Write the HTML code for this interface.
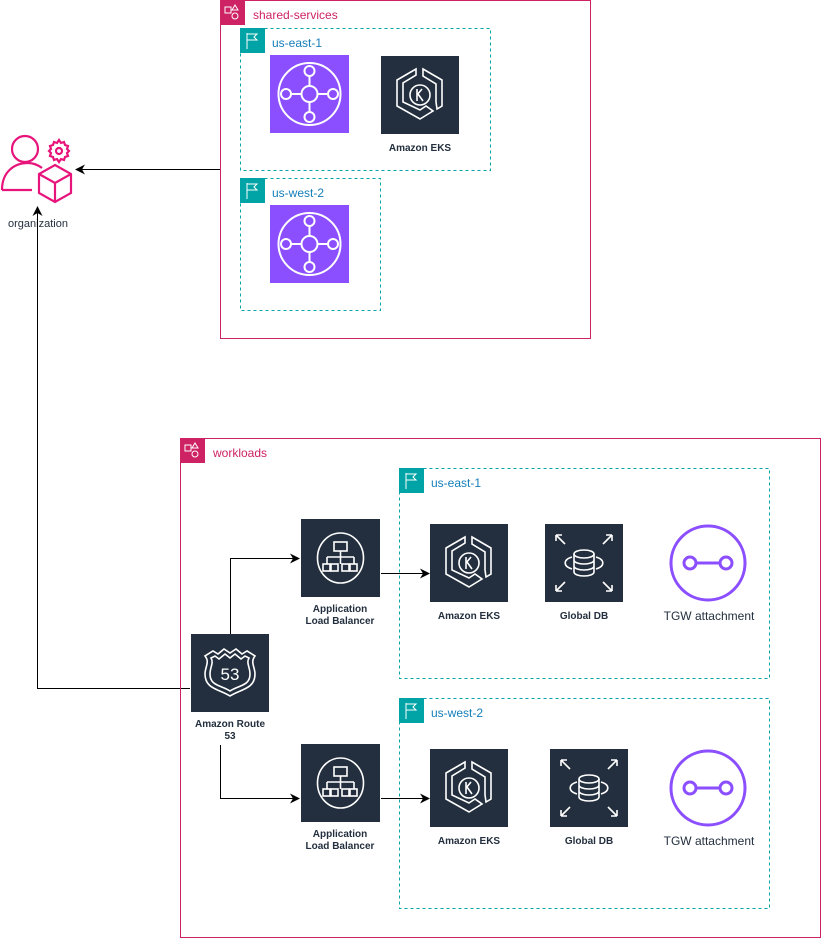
<!DOCTYPE html>
<html><head><meta charset="utf-8"><style>
html,body{margin:0;padding:0;background:#fff;}
svg{display:block;font-family:"Liberation Sans",Arial,sans-serif;}
.b{font-weight:bold;font-size:10px;fill:#232F3E;}
</style></head><body>
<svg width="821" height="939" viewBox="0 0 821 939" xmlns="http://www.w3.org/2000/svg">
<defs>
<marker id="ar" markerWidth="10" markerHeight="10" refX="9" refY="5" orient="auto" markerUnits="userSpaceOnUse">
<path d="M0,0 L10,5 L0,10 L3,5 Z" fill="#000"/></marker>
<g id="acct"><rect width="25" height="25" fill="#CD2264"/><rect x="5" y="7" width="6" height="6" fill="none" stroke="#fff" stroke-width="1"/><path d="M15,5 l3,5 h-6 z" fill="none" stroke="#fff"/><circle cx="15" cy="16" r="3" fill="none" stroke="#fff"/></g>
<g id="flag"><rect width="25" height="25" fill="#00A4A6"/><path d="M7,5 v16 M7,6 h10 l-3,3 l3,3 h-10" fill="none" stroke="#fff" stroke-width="1"/></g>
<g id="tgw"><rect width="79" height="78" fill="#8C4FFF"/><g fill="none" stroke="#fff" stroke-width="2"><circle cx="39.5" cy="39" r="31"/><circle cx="39.5" cy="39" r="8"/><circle cx="39.5" cy="16" r="5"/><circle cx="39.5" cy="62" r="5"/><circle cx="16" cy="39" r="5"/><circle cx="63" cy="39" r="5"/><path d="M39.5,21v10M39.5,47v10M21,39h10M47,39h11"/></g></g>
<g id="eks"><rect width="78" height="78" fill="#232F3E"/><g fill="none" stroke="#fff" stroke-width="1.6"><path d="M35,13 L16,24 V50 L39,63 L52,55 L45,50 L39,54 L22,46 V27 L35,19 Z"/><path d="M42,13 L61,24 V50 L56,53 L55,46 V28 L42,20 Z"/><circle cx="39" cy="39" r="10"/><path d="M36,33v12M36,39l5,-6M37,38l5,7"/></g></g>
<g id="alb"><rect width="79" height="78" fill="#232F3E"/><g fill="none" stroke="#fff" stroke-width="1.6"><ellipse cx="39.5" cy="39" rx="23" ry="25"/><rect x="33" y="23" width="13" height="9"/><path d="M39.5,32v6M26,38h27M26,38v7M39.5,38v7M53,38v7"/><rect x="22" y="45" width="7" height="7"/><rect x="30" y="45" width="7" height="7"/><rect x="41" y="45" width="7" height="7"/><rect x="49" y="45" width="7" height="7"/></g></g>
<g id="db"><rect width="78" height="78" fill="#232F3E"/><g fill="none" stroke="#fff" stroke-width="1.6"><ellipse cx="39" cy="30" rx="10" ry="4"/><path d="M29,30v18a10,4 0 0 0 20,0v-18M29,36a10,4 0 0 0 20,0M29,42a10,4 0 0 0 20,0"/><path d="M27,33a14,7 0 0 0 0,12M51,33a14,7 0 0 1 0,12"/><path d="M11,11l9,9M11,11v6M11,11h6M67,11l-9,9M67,11v6M67,11h-6M11,67l9,-9M11,67v-6M11,67h6M67,67l-9,-9M67,67v-6M67,67h-6"/></g></g>
<g id="tgwa"><g fill="none" stroke="#8C4FFF" stroke-width="3"><circle cx="0" cy="0" r="37"/><circle cx="-18" cy="0" r="6"/><circle cx="18" cy="0" r="6"/><path d="M-12,0h24"/></g></g>
<g id="r53"><rect width="78" height="78" fill="#232F3E"/><g fill="none" stroke="#fff" stroke-width="1.6"><path d="M39,62 C28,55 14,55 14,40 C14,33 19,28 14,22 L22,17 L27,20 L33,15 L39,19 L45,15 L51,20 L56,17 L64,22 C59,28 64,33 64,40 C64,55 50,55 39,62Z"/><path d="M39,57 C30,51 19,52 19,40 C19,33 23,29 20,24 L24,22 L28,25 L34,20 L39,24 L44,20 L50,25 L54,22 L58,24 C55,29 59,33 59,40 C59,52 48,51 39,57Z"/></g><text x="39" y="46" text-anchor="middle" font-size="17" fill="#fff">53</text></g>
</defs>

<!-- shared-services -->
<rect x="220.5" y="0.5" width="370" height="338" fill="none" stroke="#CD2264"/>
<use href="#acct" x="220" y="0"/>
<text x="253" y="19" font-size="12" fill="#CD2264">shared-services</text>
<rect x="240.5" y="28.5" width="250" height="142" fill="none" stroke="#00A4A6" stroke-dasharray="3,3"/>
<use href="#flag" x="240" y="28"/>
<text x="272" y="47" font-size="12" fill="#147EBA">us-east-1</text>
<use href="#tgw" x="270" y="55"/>
<use href="#eks" x="381" y="56"/>
<text class="b" x="420" y="151" text-anchor="middle">Amazon EKS</text>
<rect x="240.5" y="178.5" width="140" height="132" fill="none" stroke="#00A4A6" stroke-dasharray="3,3"/>
<use href="#flag" x="240" y="178"/>
<text x="272" y="197" font-size="12" fill="#147EBA">us-west-2</text>
<use href="#tgw" x="270" y="205"/>

<!-- organization -->
<g fill="none" stroke="#E7157B" stroke-width="2.2">
<circle cx="25" cy="149" r="13"/>
<path d="M2,190 C2,172 14,163 28,163 C34,163 38,165 42,168"/>
<path d="M2,190 H32"/>
<path d="M55,165 L71,174 V193 L55,202 L39,193 V174 Z M39,174 L55,183 L71,174 M55,183 V202"/>
<circle cx="59" cy="151" r="3"/>
<path d="M59,140 l2,3 3,-1 1,3 3,1 -1,3 2,2 -2,2 1,3 -3,1 -1,3 -3,-1 -2,3 -2,-3 -3,1 -1,-3 -3,-1 1,-3 -2,-2 2,-2 -1,-3 3,-1 1,-3 3,1 z"/>
</g>
<text x="38" y="227" text-anchor="middle" font-size="11" fill="#232F3E">organization</text>

<!-- connectors -->
<g stroke="#000" stroke-width="1" fill="none">
<path d="M220,169.5 H76" marker-end="url(#ar)"/>
<path d="M190,688.5 H37.5 V207" marker-end="url(#ar)"/>
<path d="M230.5,634 V558.5 H299" marker-end="url(#ar)"/>
<path d="M381,573.5 H429" marker-end="url(#ar)"/>
<path d="M220.5,745 V798.5 H299" marker-end="url(#ar)"/>
<path d="M381,798.5 H429" marker-end="url(#ar)"/>
</g>

<!-- workloads -->
<rect x="180.5" y="438.5" width="640" height="499" fill="none" stroke="#CD2264"/>
<use href="#acct" x="180" y="438"/>
<text x="213" y="457" font-size="12" fill="#CD2264">workloads</text>

<rect x="399.5" y="468.5" width="370" height="210" fill="none" stroke="#00A4A6" stroke-dasharray="3,3"/>
<use href="#flag" x="399" y="468"/>
<text x="431" y="487" font-size="12" fill="#147EBA">us-east-1</text>
<use href="#alb" x="301" y="519"/>
<text class="b" x="340" y="612" text-anchor="middle">Application</text>
<text class="b" x="340" y="624" text-anchor="middle">Load Balancer</text>
<use href="#eks" x="430" y="524"/>
<text class="b" x="469" y="619" text-anchor="middle">Amazon EKS</text>
<use href="#db" x="545" y="524"/>
<text class="b" x="584" y="619" text-anchor="middle">Global DB</text>
<use href="#tgwa" x="708" y="563"/>
<text x="709" y="620" text-anchor="middle" font-size="12" fill="#232F3E">TGW attachment</text>

<use href="#r53" x="191" y="634"/>
<text class="b" x="230" y="727" text-anchor="middle">Amazon Route</text>
<text class="b" x="230" y="739" text-anchor="middle">53</text>

<rect x="399.5" y="698.5" width="370" height="210" fill="none" stroke="#00A4A6" stroke-dasharray="3,3"/>
<use href="#flag" x="399" y="698"/>
<text x="431" y="717" font-size="12" fill="#147EBA">us-west-2</text>
<use href="#alb" x="301" y="744"/>
<text class="b" x="340" y="837" text-anchor="middle">Application</text>
<text class="b" x="340" y="849" text-anchor="middle">Load Balancer</text>
<use href="#eks" x="430" y="749"/>
<text class="b" x="469" y="844" text-anchor="middle">Amazon EKS</text>
<use href="#db" x="550" y="749"/>
<text class="b" x="589" y="844" text-anchor="middle">Global DB</text>
<use href="#tgwa" x="708" y="788"/>
<text x="709" y="845" text-anchor="middle" font-size="12" fill="#232F3E">TGW attachment</text>
</svg>
</body></html>
